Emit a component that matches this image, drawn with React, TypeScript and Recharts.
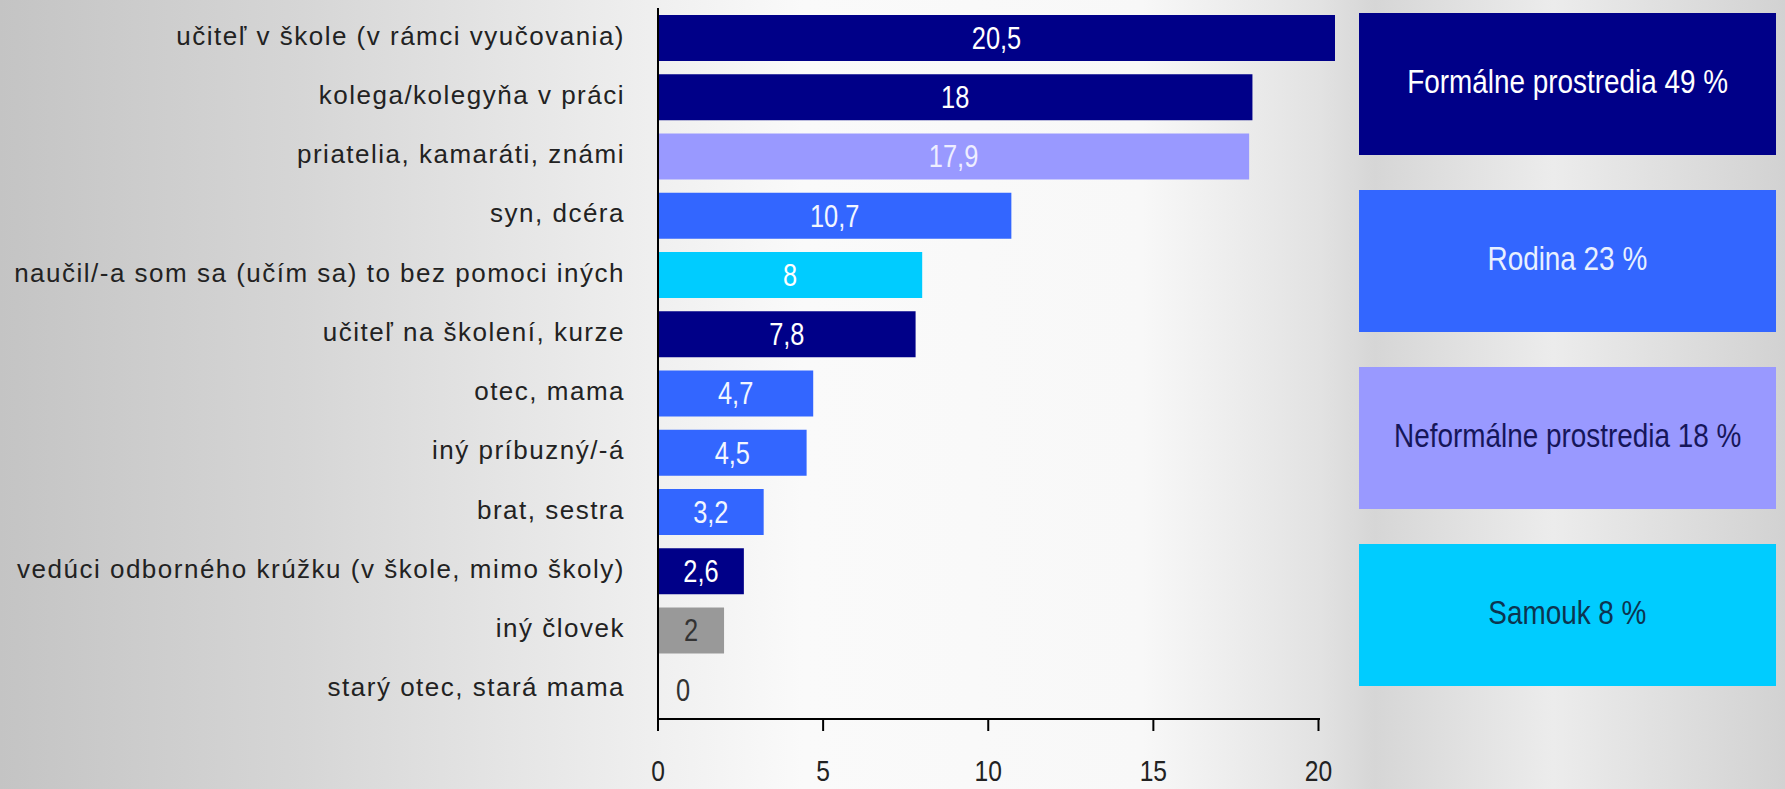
import React from "react";
import { BarChart, Bar, XAxis, YAxis, Cell, LabelList } from "recharts";

type Group = "formal" | "family" | "informal" | "self" | "other";

const categories = [
  "učiteľ v škole (v rámci vyučovania)",
  "kolega/kolegyňa v práci",
  "priatelia, kamaráti, známi",
  "syn, dcéra",
  "naučil/-a som sa (učím sa) to bez pomoci iných",
  "učiteľ na školení, kurze",
  "otec, mama",
  "iný príbuzný/-á",
  "brat, sestra",
  "vedúci odborného krúžku (v škole, mimo školy)",
  "iný človek",
  "starý otec, stará mama",
];

const values = [20.5, 18, 17.9, 10.7, 8, 7.8, 4.7, 4.5, 3.2, 2.6, 2, 0];

const groups: Group[] = [
  "formal", "formal", "informal", "family", "self", "formal",
  "family", "family", "family", "formal", "other", "family",
];

const xTicks = [0, 5, 10, 15, 20];

const legendLabels = [
  "Formálne prostredia 49 %",
  "Rodina 23 %",
  "Neformálne prostredia 18 %",
  "Samouk 8 %",
];
const legendGroups: Group[] = ["formal", "family", "informal", "self"];

const GROUP_COLORS: Record<Group, string> = {
  formal: "#000088",
  family: "#3366ff",
  informal: "#9999ff",
  self: "#00ccff",
  other: "#999999",
};

const LABEL_COLORS: Record<Group, string> = {
  formal: "#ffffff",
  family: "#f2f6ff",
  informal: "#eeeeff",
  self: "#ffffff",
  other: "#333333",
};

const LEGEND_TEXT: Record<Group, string> = {
  formal: "#ffffff",
  family: "#e8f0ff",
  informal: "#16165a",
  self: "#0c3550",
  other: "#333333",
};

// no narrow face installed, so glyphs get squeezed with a scale
const SANS = "'Liberation Sans', Arial, sans-serif";
const SQUEEZE = 0.82;

const fmt = (v: number) => String(v).replace(".", ",");

const data = categories.map((name, i) => ({ name, value: values[i], group: groups[i] }));

const CategoryTick = (props: any) => {
  const { x, y, payload } = props;
  return (
    <text
      x={x}
      y={y - 2}
      textAnchor="end"
      dominantBaseline="central"
      fontSize={26}
      fontFamily={SANS}
      letterSpacing={1.5}
      fill="#222"
    >
      {payload.value}
    </text>
  );
};

const ValueTick = (props: any) => {
  const { x, y, payload } = props;
  return (
    <text
      transform={`translate(${x},${y + 50}) scale(${SQUEEZE},1)`}
      textAnchor="middle"
      fontSize={30}
      fontFamily={SANS}
      fill="#222"
    >
      {payload.value}
    </text>
  );
};

const ValueLabel = (props: any) => {
  const { x, y, width, height, value, index } = props;
  const g = groups[index] ?? "other";
  const zero = value === 0;
  const cx = zero ? x + 25 : x + width / 2;
  const cy = y + height / 2;
  return (
    <text
      transform={`translate(${cx},${cy}) scale(${SQUEEZE},1)`}
      textAnchor="middle"
      dominantBaseline="central"
      fontSize={31}
      fontFamily={SANS}
      fill={zero ? "#333" : LABEL_COLORS[g]}
    >
      {fmt(value)}
    </text>
  );
};

export default function App() {
  return (
    <div
      style={{
        position: "absolute",
        left: 0,
        top: 0,
        width: 1785,
        height: 789,
        overflow: "hidden",
        background:
          "linear-gradient(to right, #c4c4c4 0%, #d6d6d6 17%, #ececec 34%, #fafafa 45%, #f8f8f8 64%, #e2e2e2 74%, #d6d6d6 77%, #ececec 87%, #d2d2d2 100%)",
      }}
    >
      <BarChart
        width={1785}
        height={789}
        data={data}
        layout="vertical"
        margin={{ top: 8, right: 450, bottom: 0, left: 0 }}
        style={{ position: "absolute", left: 0, top: 0 }}
      >
        <XAxis
          type="number"
          domain={[0, 20.5]}
          ticks={xTicks}
          height={70}
          tickSize={12}
          tickMargin={0}
          tick={<ValueTick />}
          axisLine={{ stroke: "#000", strokeWidth: 2, strokeDasharray: "662 300" }}
          tickLine={{ stroke: "#000", strokeWidth: 2 }}
        />
        <YAxis
          type="category"
          dataKey="name"
          width={658}
          interval={0}
          tickSize={0}
          tickMargin={33}
          tickLine={false}
          tick={<CategoryTick />}
          axisLine={{ stroke: "#000", strokeWidth: 2 }}
        />
        <Bar dataKey="value" barSize={46} minPointSize={1} isAnimationActive={false}>
          {data.map((d, i) => (
            <Cell key={i} fill={d.value === 0 ? "transparent" : GROUP_COLORS[d.group]} />
          ))}
          <LabelList dataKey="value" content={<ValueLabel />} />
        </Bar>
      </BarChart>
      {legendLabels.map((label, i) => (
        <div
          key={label}
          style={{
            position: "absolute",
            left: 1359,
            top: 13 + i * 177,
            width: 417,
            height: 142,
            background: GROUP_COLORS[legendGroups[i]],
            color: LEGEND_TEXT[legendGroups[i]],
            fontFamily: SANS,
            fontSize: 34,
            display: "flex",
            alignItems: "center",
            justifyContent: "center",
          }}
        >
          <span
            style={{
              display: "inline-block",
              whiteSpace: "nowrap",
              transform: `scaleX(${SQUEEZE})`,
              marginTop: -6,
            }}
          >
            {label}
          </span>
        </div>
      ))}
    </div>
  );
}
